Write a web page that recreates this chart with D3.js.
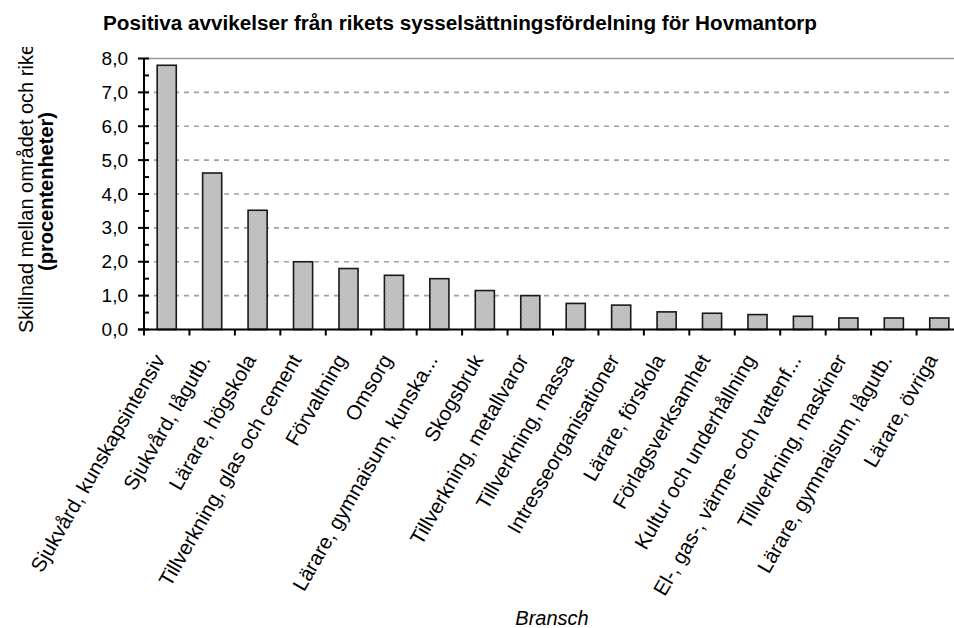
<!DOCTYPE html>
<html lang="sv">
<head>
    <meta charset="UTF-8">
    <title>Hovmantorp</title>
    <script src="https://d3js.org/d3.v7.min.js"></script>
    <style>
        body { margin: 0; background: #fff; }
        text { font-family: "Liberation Sans", Arial, sans-serif; }
    </style>
</head>
<body>
<script>
var categories = ['Sjukvård, kunskapsintensiv', 'Sjukvård, lågutb.', 'Lärare, högskola',
    'Tillverkning, glas och cement', 'Förvaltning', 'Omsorg', 'Lärare, gymnaisum, kunska...',
    'Skogsbruk', 'Tillverkning, metallvaror', 'Tillverkning, massa', 'Intresseorganisationer',
    'Lärare, förskola', 'Förlagsverksamhet', 'Kultur och underhållning',
    'El-, gas-, värme- och vattenf...', 'Tillverkning, maskiner', 'Lärare, gymnaisum, lågutb.',
    'Lärare, övriga'];
var values = [7.8, 4.62, 3.52, 2.0, 1.8, 1.6, 1.5, 1.15, 1.0, 0.77, 0.72, 0.52, 0.48, 0.44, 0.39, 0.34, 0.34, 0.34];
var yTicks = [0, 1, 2, 3, 4, 5, 6, 7, 8];

var width = 954;
var height = 628;

var svg = d3.select('body')
    .append('svg')
    .attr('width', width)
    .attr('height', height);

// grå fyllning med små prickar
var defs = svg.append('defs');
var pat = defs.append('pattern')
    .attr('id', 'dots')
    .attr('width', 4).attr('height', 4)
    .attr('patternUnits', 'userSpaceOnUse');
pat.append('rect').attr('width', 4).attr('height', 4).attr('fill', '#bdbdbd');
pat.append('rect').attr('x', 1).attr('y', 1).attr('width', 1).attr('height', 1).attr('fill', '#d2d2d2');
pat.append('rect').attr('x', 3).attr('y', 3).attr('width', 1).attr('height', 1).attr('fill', '#d2d2d2');

defs.append('clipPath').attr('id', 'ytitleclip')
    .append('rect').attr('x', 0).attr('y', 47).attr('width', 80).attr('height', 320);

var plot = {left: 144, right: 962, top: 58.5, bottom: 329.5};

var xscale = d3.scaleBand()
    .domain(categories)
    .range([plot.left, plot.right])
    .paddingInner(0.58)
    .paddingOuter(0.29);

var yscale = d3.scaleLinear()
    .domain([0, 8])
    .range([plot.bottom, plot.top]);

var step = xscale.step();

// rutnät
svg.selectAll('.grid')
    .data(yTicks.filter(function (d) { return d > 0; }))
    .enter()
    .append('line')
    .attr('x1', plot.left)
    .attr('x2', width)
    .attr('y1', function (d) { return yscale(d); })
    .attr('y2', function (d) { return yscale(d); })
    .attr('stroke', function (d) { return d === 8 ? '#9a9a9a' : '#a0a0a0'; })
    .attr('stroke-width', 1.6)
    .attr('stroke-dasharray', function (d) { return d === 8 ? null : '5,5'; });

// staplar
svg.selectAll('.bar')
    .data(values)
    .enter()
    .append('rect')
    .attr('x', function (d, i) { return xscale(categories[i]); })
    .attr('y', function (d) { return yscale(d); })
    .attr('width', xscale.bandwidth())
    .attr('height', function (d) { return plot.bottom - yscale(d); })
    .attr('fill', 'url(#dots)')
    .attr('stroke', '#1a1a1a')
    .attr('stroke-width', 1.6);

// y-axel
var yAxis = d3.axisLeft(yscale)
    .tickValues(yTicks)
    .tickSize(0)
    .tickPadding(16)
    .tickFormat(function (d) { return d3.format('.1f')(d).replace('.', ','); });

var gy = svg.append('g')
    .attr('transform', 'translate(' + plot.left + ',0)')
    .call(yAxis);
gy.select('.domain').remove();
gy.selectAll('text')
    .attr('font-size', '19px')
    .attr('fill', '#000')
    .attr('font-family', '"Liberation Sans", Arial, sans-serif');

svg.append('line')
    .attr('x1', plot.left).attr('x2', plot.left)
    .attr('y1', plot.top).attr('y2', plot.bottom)
    .attr('stroke', '#000').attr('stroke-width', 2);

// större och mindre streck
svg.selectAll('.ymajor')
    .data(yTicks)
    .enter()
    .append('line')
    .attr('x1', plot.left - 6).attr('x2', plot.left + 5)
    .attr('y1', function (d) { return yscale(d); })
    .attr('y2', function (d) { return yscale(d); })
    .attr('stroke', '#000').attr('stroke-width', 2);

svg.selectAll('.yminor')
    .data(yTicks.slice(0, -1))
    .enter()
    .append('line')
    .attr('x1', plot.left).attr('x2', plot.left + 5)
    .attr('y1', function (d) { return yscale(d + 0.5); })
    .attr('y2', function (d) { return yscale(d + 0.5); })
    .attr('stroke', '#000').attr('stroke-width', 2);

// x-axel
svg.append('line')
    .attr('x1', plot.left - 6).attr('x2', width)
    .attr('y1', plot.bottom).attr('y2', plot.bottom)
    .attr('stroke', '#000').attr('stroke-width', 2);

svg.selectAll('.xtick')
    .data(d3.range(categories.length + 1))
    .enter()
    .append('line')
    .attr('x1', function (d) { return plot.left + d * step; })
    .attr('x2', function (d) { return plot.left + d * step; })
    .attr('y1', plot.bottom)
    .attr('y2', plot.bottom + 6)
    .attr('stroke', '#000').attr('stroke-width', 2);

svg.selectAll('.xlabel')
    .data(categories)
    .enter()
    .append('text')
    .attr('transform', function (d) {
        var cx = xscale(d) + xscale.bandwidth() / 2;
        return 'translate(' + (cx - 1) + ',' + (plot.bottom + 30) + ') rotate(-60)';
    })
    .attr('text-anchor', 'end')
    .attr('font-size', '20.5px')
    .attr('fill', '#000')
    .text(function (d) { return d; });

// titlar
svg.append('text')
    .attr('x', 103)
    .attr('y', 30)
    .attr('font-size', '20.7px')
    .attr('font-weight', 'bold')
    .attr('fill', '#000')
    .text('Positiva avvikelser från rikets sysselsättningsfördelning för Hovmantorp');

svg.append('g')
    .attr('clip-path', 'url(#ytitleclip)')
    .append('text')
    .attr('transform', 'translate(33,333) rotate(-90)')
    .attr('font-size', '20px')
    .attr('fill', '#000')
    .text('Skillnad mellan området och riket');

svg.append('text')
    .attr('transform', 'translate(53,191.5) rotate(-90)')
    .attr('text-anchor', 'middle')
    .attr('font-size', '20px')
    .attr('font-weight', 'bold')
    .attr('fill', '#000')
    .text('(procentenheter)');

svg.append('text')
    .attr('x', 552)
    .attr('y', 625)
    .attr('text-anchor', 'middle')
    .attr('font-size', '20px')
    .attr('font-style', 'italic')
    .attr('fill', '#000')
    .text('Bransch');
</script>
</body>
</html>
